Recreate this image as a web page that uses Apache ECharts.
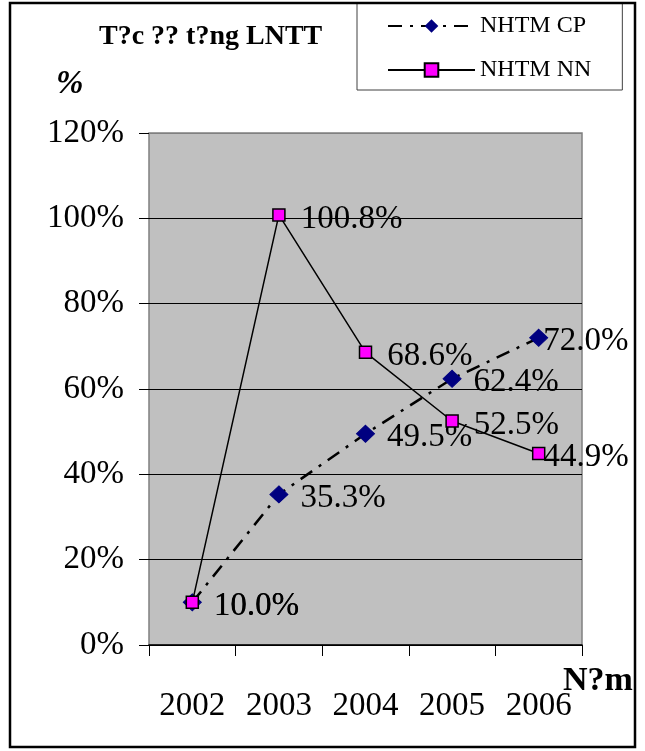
<!DOCTYPE html>
<html>
<head>
<meta charset="utf-8">
<script src="https://cdn.jsdelivr.net/npm/echarts@6/dist/echarts.min.js"></script>
<style>
html,body{margin:0;padding:0;background:#fff;}
#chart{width:645px;height:751px;}
</style>
</head>
<body>
<div id="chart"></div>
<script>
var categories = ['2002', '2003', '2004', '2005', '2006'];
var seriesCP = [10.0, 35.3, 49.5, 62.4, 72.0];
var seriesNN = [10.0, 100.8, 68.6, 52.5, 44.9];
var yTicks = [0, 20, 40, 60, 80, 100, 120];

var FONT = "'Liberation Serif', 'Times New Roman', serif";

function buildData(values, lastDistance) {
  return values.map(function (v, i) {
    if (i === values.length - 1) {
      return { value: v, label: { distance: lastDistance } };
    }
    return v;
  });
}

var chart = echarts.init(document.getElementById('chart'), null, { renderer: 'canvas' });

var option = {
  backgroundColor: '#ffffff',
  animation: false,
  grid: {
    left: 149, right: 63, top: 133, bottom: 106,
    show: true,
    backgroundColor: '#c0c0c0',
    borderColor: '#808080',
    borderWidth: 1.5
  },
  legend: {
    orient: 'vertical',
    left: 357,
    top: 3,
    padding: [11, 31, 8, 30],
    itemWidth: 87,
    itemHeight: 17,
    itemGap: 20,
    itemTextGap: 7,
    borderColor: '#404040',
    borderWidth: 1,
    backgroundColor: '#ffffff',
    textStyle: { fontFamily: FONT, fontSize: 24, color: '#000' },
    data: ['NHTM CP', 'NHTM NN']
  },
  xAxis: {
    type: 'category',
    data: categories,
    boundaryGap: true,
    axisLine: { show: true, lineStyle: { color: '#000', width: 1.5 } },
    axisTick: { show: true, length: 11, inside: false, lineStyle: { color: '#000', width: 1 } },
    axisLabel: { fontFamily: FONT, fontSize: 33, color: '#000', margin: 45 },
    splitLine: { show: false }
  },
  yAxis: {
    type: 'value',
    min: yTicks[0],
    max: yTicks[yTicks.length - 1],
    interval: 20,
    axisLine: { show: false },
    axisTick: { show: true, length: 10, lineStyle: { color: '#000', width: 1 } },
    axisLabel: { fontFamily: FONT, fontSize: 33, color: '#000', margin: 25, formatter: '{value}%' },
    splitLine: {
      show: true,
      lineStyle: { color: ['#000', '#000', '#000', '#000', '#000', '#000', '#808080'], width: 1 }
    }
  },
  series: [
    {
      name: 'NHTM CP',
      type: 'line',
      data: buildData(seriesCP, -5),
      symbol: 'diamond',
      symbolSize: [18, 17],
      itemStyle: { color: '#000080', borderColor: '#000080' },
      lineStyle: { color: '#000', width: 2.5, type: [14, 8, 3, 8] },
      label: {
        show: true,
        position: 'right',
        distance: 12,
        offset: [0, 4],
        fontFamily: FONT,
        fontSize: 33,
        color: '#000',
        formatter: function (p) { return p.value.toFixed(1) + '%'; }
      },
      z: 2
    },
    {
      name: 'NHTM NN',
      type: 'line',
      data: buildData(seriesNN, -2),
      symbol: 'rect',
      symbolSize: 12,
      itemStyle: { color: '#ff00ff', borderColor: '#000', borderWidth: 1.5 },
      lineStyle: { color: '#000', width: 1.5, type: 'solid' },
      label: {
        show: true,
        position: 'right',
        distance: 15,
        offset: [0, 4],
        fontFamily: FONT,
        fontSize: 33,
        color: '#000',
        formatter: function (p) { return p.value.toFixed(1) + '%'; }
      },
      z: 3
    }
  ],
  graphic: [
    {
      type: 'rect',
      shape: { x: 10, y: 3, width: 625, height: 744 },
      style: { fill: 'none', stroke: '#000', lineWidth: 2.5 },
      z: 100,
      silent: true
    },
    {
      type: 'text',
      left: 99,
      top: 23,
      style: { text: 'T?c ?? t?ng LNTT', font: 'bold 28px ' + FONT, fill: '#000' }
    },
    {
      type: 'text',
      left: 56,
      top: 68,
      style: { text: '%', font: 'italic bold 33px ' + FONT, fill: '#000' }
    },
    {
      type: 'text',
      left: 563,
      top: 664,
      style: { text: 'N?m', font: 'bold 34px ' + FONT, fill: '#000' }
    }
  ]
};

chart.setOption(option);
</script>
</body>
</html>
